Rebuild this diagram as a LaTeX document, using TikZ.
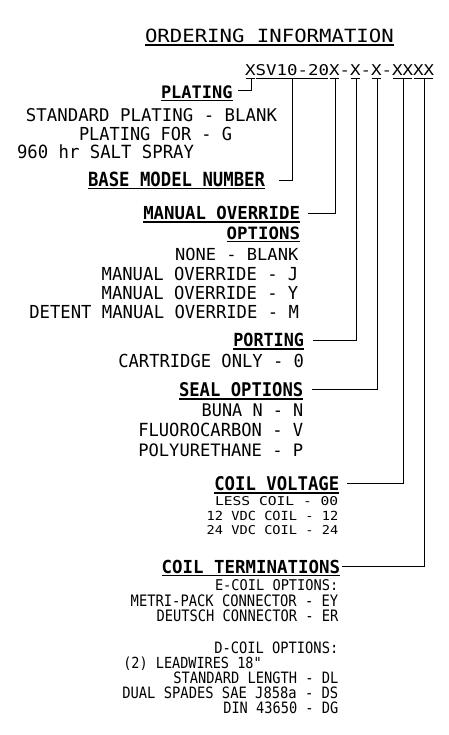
\documentclass[tikz,border=0pt]{standalone}
\usepackage{fontspec}
\setmonofont{DejaVu Sans Mono}
\usepackage{graphicx}
\newcommand\fitbox[3]{\resizebox{#1pt}{#2pt}{\ttfamily #3}}
\newcommand\fitboxb[3]{\resizebox{#1pt}{#2pt}{\ttfamily\bfseries #3}}
\tikzset{
  txt/.style={inner sep=0pt, outer sep=0pt, anchor=base west},
  uline/.style={line width=1.6pt},
  tline/.style={line width=1.2pt},
  conn/.style={line width=1pt}
}
% \txtl{name}{L}{R}{top}{base}{text}
\newcommand\txtl[6]{\node[txt] (#1) at (#2,#5) {\fitbox{\fpeval{#3-#2}}{\fpeval{#5-#4}}{#6}};}
\newcommand\headl[6]{\node[txt] (#1) at (#2,#5) {\fitboxb{\fpeval{#3-#2}}{\fpeval{#5-#4}}{#6}};
  \draw[uline] ([yshift=-2.2pt]#1.base west) -- ([yshift=-2.2pt]#1.base east);}
\begin{document}
\begin{tikzpicture}[x=1pt,y=-1pt]
\fill[white] (0,0) rectangle (449,735);
\useasboundingbox (0,0) rectangle (449,735);

% title
\txtl{title}{145}{393.8}{29}{42.5}{ORDERING INFORMATION}
\draw[tline] (145,45) -- (393.8,45);

% part number
\txtl{pn}{245}{434}{65}{76}{XSV10-20X-X-X-XXXX}
\foreach \i/\j in {0/0,1/7,8/8,10/10,12/12,14/15,16/17}{
  \draw[tline] ({245+\i*10.5+0.6},78.8) -- ({245+(\j+1)*10.5-0.6},78.8);
}
\coordinate (a0) at (251.8,78.8);
\coordinate (a1) at (292.7,78.8);
\coordinate (a2) at (335.2,78.8);
\coordinate (a3) at (356.4,78.8);
\coordinate (a4) at (377.3,78.8);
\coordinate (a5) at (403.3,78.8);
\coordinate (a6) at (424.2,78.8);

% plating
\headl{plating}{161}{232.5}{85.5}{98.3}{PLATING}
\txtl{pl1}{26}{277}{108.5}{121.5}{STANDARD PLATING - BLANK}
\txtl{pl2}{79}{232}{127}{140.3}{PLATING FOR - G}
\txtl{pl3}{17}{194}{144.5}{158.3}{960 hr SALT SPRAY}

% base model
\headl{base}{88}{265}{172}{186.5}{BASE MODEL NUMBER}

% manual override
\headl{mo}{143.3}{300}{206.7}{220}{MANUAL OVERRIDE}
\headl{mo2}{226.7}{300}{226.7}{239.3}{OPTIONS}
\txtl{mo3}{175}{298.3}{247.7}{260}{NONE - BLANK}
\txtl{mo4}{101.7}{298.3}{266.7}{280}{MANUAL OVERRIDE - J}
\txtl{mo5}{101.7}{298.3}{285.7}{299}{MANUAL OVERRIDE - Y}
\txtl{mo6}{29.3}{299}{305}{318.3}{DETENT MANUAL OVERRIDE - M}

% porting
\headl{port}{233.3}{304}{333.3}{346.7}{PORTING}
\txtl{port1}{118.3}{304}{354}{367.3}{CARTRIDGE ONLY - 0}

% seal
\headl{seal}{179}{303.3}{382.7}{396.7}{SEAL OPTIONS}
\txtl{seal1}{201.7}{303.3}{404}{416.7}{BUNA N - N}
\txtl{seal2}{138.3}{303.3}{423.3}{436.7}{FLUOROCARBON - V}
\txtl{seal3}{138.3}{303.3}{443.3}{456}{POLYURETHANE - P}

% coil voltage
\headl{cv}{214.3}{339.3}{476.7}{490.7}{COIL VOLTAGE}
\txtl{cv1}{215}{338.3}{496.7}{505.7}{LESS COIL - 00}
\txtl{cv2}{206.7}{338.3}{510.7}{520}{12 VDC COIL - 12}
\txtl{cv3}{206.7}{338.3}{525}{534}{24 VDC COIL - 24}

% coil terminations
\headl{ct}{161.7}{340}{560}{573.3}{COIL TERMINATIONS}
\txtl{ct1}{215}{338.3}{579}{590}{E-COIL OPTIONS:}
\txtl{ct2}{130.7}{338.3}{595}{606.7}{METRI-PACK CONNECTOR - EY}
\txtl{ct3}{156.7}{338.3}{610}{621.7}{DEUTSCH CONNECTOR - ER}
\txtl{ct4}{214.3}{338.3}{641.7}{653.3}{D-COIL OPTIONS:}
\txtl{ct5}{123.3}{261.7}{656.7}{668.3}{(2) LEADWIRES 18"}
\txtl{ct6}{173.3}{338.3}{671.7}{683.3}{STANDARD LENGTH - DL}
\txtl{ct7}{122.3}{338.3}{686.7}{698.3}{DUAL SPADES SAE J858a - DS}
\txtl{ct8}{223.3}{338.3}{701.7}{713.3}{DIN 43650 - DG}

% connectors
\draw[conn] (a0) |- ([xshift=5pt,yshift=1.5pt]plating.east);
\draw[conn] (a1) |- ([xshift=13.5pt,yshift=-1.5pt]base.east);
\draw[conn] (a2) |- ([xshift=8pt]mo.east);
\draw[conn] (a3) |- ([xshift=9pt]port.east);
\draw[conn] (a4) |- ([xshift=8.7pt]seal.east);
\draw[conn] (a5) |- ([xshift=7.4pt]cv.east);
\draw[conn] (a6) |- ([xshift=2pt]ct.east);
\end{tikzpicture}
\end{document}
